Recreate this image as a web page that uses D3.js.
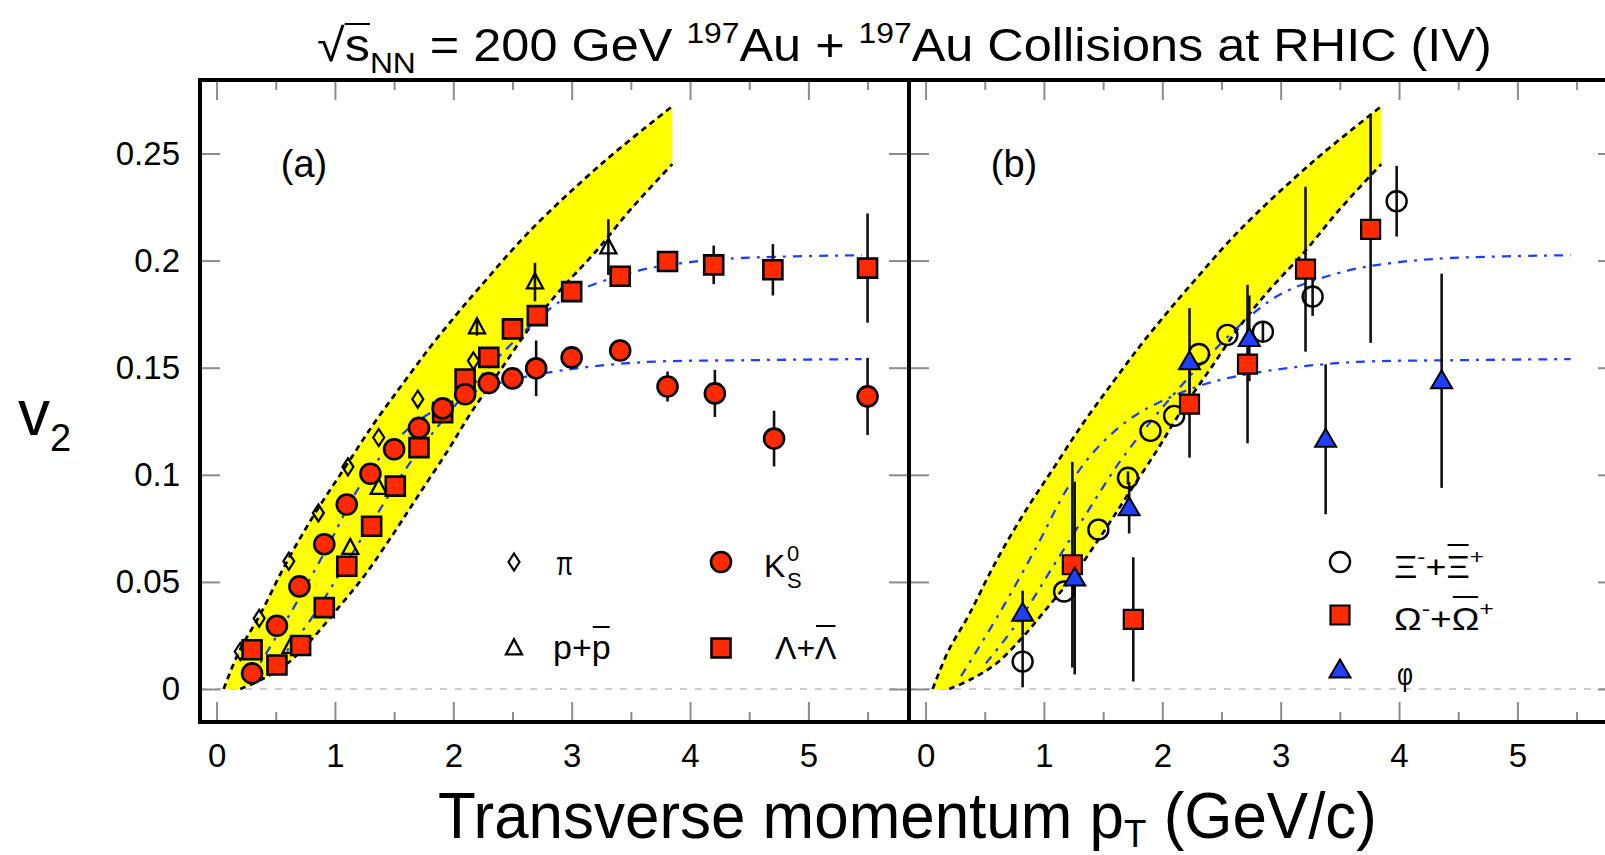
<!DOCTYPE html>
<html><head><meta charset="utf-8">
<script src="https://cdn.jsdelivr.net/npm/d3@7"></script>
<style>
html,body{margin:0;padding:0;background:#fff;}
svg{display:block;}
text{font-family:"Liberation Sans",Arial,Helvetica,sans-serif;fill:#000;}
</style></head><body>
<svg id="chart" width="1605" height="855"></svg>
<script>
// ---------------- data ----------------
const xTicks = [0, 1, 2, 3, 4, 5];
const xMinorTicks = [0.5, 1.5, 2.5, 3.5, 4.5, 5.5];
const yTicks = [0, 0.05, 0.1, 0.15, 0.2, 0.25];
const yTickLabels = ["0", "0.05", "0.1", "0.15", "0.2", "0.25"];

// panel (a)
const piPt  = [0.20, 0.36, 0.61, 0.86, 1.11, 1.37, 1.70, 2.17];
const piV2  = [0.0175, 0.033, 0.0596, 0.0822, 0.1037, 0.1174, 0.1353, 0.1532];

const ppPt  = [0.625, 1.13, 1.37, 2.20, 2.69, 3.31];
const ppV2  = [0.0198, 0.066, 0.094, 0.169, 0.190, 0.2063];
const ppErr = [0, 0, 0, 0.004, 0.009, 0.013];

const k0Pt  = [0.30, 0.51, 0.70, 0.91, 1.10, 1.30, 1.50, 1.71, 1.91, 2.10, 2.30, 2.50, 2.70, 3.00, 3.41, 3.81, 4.21, 4.71, 5.50];
const k0V2  = [0.0073, 0.0295, 0.0479, 0.0676, 0.0861, 0.1005, 0.1119, 0.1219, 0.131, 0.1376, 0.1428, 0.145, 0.1497, 0.1548, 0.158, 0.1412, 0.138, 0.1169, 0.1366];
const k0Err = [0, 0, 0, 0, 0, 0, 0, 0, 0, 0, 0, 0, 0.013, 0, 0, 0.007, 0.011, 0.013, 0.018];

const lamPt  = [0.30, 0.51, 0.71, 0.91, 1.10, 1.31, 1.51, 1.71, 1.91, 2.10, 2.30, 2.50, 2.71, 3.00, 3.41, 3.81, 4.20, 4.70, 5.50];
const lamV2  = [0.0183, 0.0112, 0.0203, 0.038, 0.0573, 0.076, 0.0947, 0.1127, 0.129, 0.1447, 0.1548, 0.1681, 0.1743, 0.1855, 0.1927, 0.1996, 0.198, 0.1957, 0.1965];
const lamErr = [0, 0, 0, 0, 0, 0, 0, 0, 0, 0, 0, 0, 0, 0, 0, 0.003, 0.009, 0.012, 0.0255];

// panel (b)
const xiPt  = [0.82, 1.17, 1.46, 1.71, 1.90, 2.10, 2.31, 2.55, 2.85, 3.27, 3.98];
const xiV2  = [0.0128, 0.0455, 0.0744, 0.0986, 0.1205, 0.1275, 0.1564, 0.1653, 0.1668, 0.1832, 0.2277];
const xiErr = [0.012, 0, 0, 0.003, 0, 0, 0, 0, 0.005, 0.009, 0.0165];

const omPt  = [1.24, 1.755, 2.23, 2.72, 3.21, 3.76];
const omV2  = [0.058, 0.0325, 0.133, 0.1517, 0.196, 0.2146];
const omErr = [0.048, 0.029, 0.025, 0.037, 0.0385, 0.053];

const phiPt  = [0.82, 1.26, 1.72, 2.23, 2.735, 3.38, 4.36];
const phiV2  = [0.0354, 0.0518, 0.0846, 0.1528, 0.1637, 0.1166, 0.1439];
const phiErr = [0.0105, 0.045, 0.012, 0.025, 0.02, 0.035, 0.05];

// hydro band (both panels)
const bandUpPt = [0.06, 0.19, 0.37, 0.58, 0.82, 1.08, 1.33, 1.58, 1.81, 2.03, 2.23, 2.65, 3.27, 3.85];
const bandUpV2 = [0.0, 0.0175, 0.035, 0.058, 0.081, 0.103, 0.124, 0.143, 0.160, 0.175, 0.188, 0.214, 0.246, 0.272];
const bandLoPt = [0.2, 0.4, 0.6, 0.8, 1.0, 1.25, 1.5, 1.7, 1.95, 2.15, 2.4, 2.65, 2.9, 3.2, 3.5, 3.85];
const bandLoV2 = [0.0, 0.005, 0.012, 0.023, 0.036, 0.053, 0.073, 0.09, 0.111, 0.129, 0.149, 0.169, 0.186, 0.204, 0.224, 0.245];

// fit curves (both panels)
const mesonFitPt = [0.30, 0.62, 0.94, 1.19, 1.41, 1.70, 1.98, 2.40, 2.90, 3.58, 4.5, 5.45];
const mesonFitV2 = [0.006, 0.035, 0.0666, 0.093, 0.110, 0.125, 0.134, 0.143, 0.1486, 0.1525, 0.1535, 0.154];
const baryonFitPt = [0.51, 0.79, 1.075, 1.36, 1.64, 1.92, 2.12, 2.4, 2.84, 3.08, 3.58, 3.96, 4.43, 5.45];
const baryonFitV2 = [0.012, 0.032, 0.057, 0.082, 0.106, 0.126, 0.139, 0.156, 0.1785, 0.1865, 0.1955, 0.199, 0.2012, 0.2025];

// ---------------- drawing ----------------
const RED = "#ff2a00", BLUE = "#1f3fff";
const FONT = '"Liberation Sans", Arial, Helvetica, sans-serif';
const svg = d3.select("#chart");
svg.append("rect").attr("width", 1605).attr("height", 855).attr("fill", "#fff");

const TOP = 80, BOTTOM = 722;
const y = d3.scaleLinear().domain([-0.0154, 0.2843]).range([BOTTOM, TOP]);
const xDomain = [-0.14, 5.85];

const zip = (a, b, c) => a.map((v, i) => ({x: v, y: b[i], e: c ? c[i] : 0}));

function diamondPath(w, h) { return `M0,${-h/2}L${w/2},0L0,${h/2}L${-w/2},0Z`; }
function triPath(w, h) { return `M0,${-h*0.58}L${w/2},${h*0.42}L${-w/2},${h*0.42}Z`; }
function squarePath(s) { return `M${-s/2},${-s/2}H${s/2}V${s/2}H${-s/2}Z`; }

function drawMarker(g, type, cx, cy) {
  if (type === "pi") {
    g.append("path").attr("d", diamondPath(11, 17)).attr("transform", `translate(${cx},${cy})`)
      .attr("fill", "none").attr("stroke", "#000").attr("stroke-width", 2.2);
  } else if (type === "pp") {
    g.append("path").attr("d", triPath(16, 15)).attr("transform", `translate(${cx},${cy})`)
      .attr("fill", "none").attr("stroke", "#000").attr("stroke-width", 2.3);
  } else if (type === "k0") {
    g.append("circle").attr("cx", cx).attr("cy", cy).attr("r", 10)
      .attr("fill", RED).attr("stroke", "#000").attr("stroke-width", 2.6);
  } else if (type === "lam") {
    g.append("path").attr("d", squarePath(19)).attr("transform", `translate(${cx},${cy})`)
      .attr("fill", RED).attr("stroke", "#000").attr("stroke-width", 2.6);
  } else if (type === "xi") {
    g.append("circle").attr("cx", cx).attr("cy", cy).attr("r", 10)
      .attr("fill", "none").attr("stroke", "#000").attr("stroke-width", 2.4);
  } else if (type === "om") {
    g.append("path").attr("d", squarePath(19)).attr("transform", `translate(${cx},${cy})`)
      .attr("fill", RED).attr("stroke", "#000").attr("stroke-width", 2.2);
  } else if (type === "phi") {
    g.append("path").attr("d", triPath(21, 18)).attr("transform", `translate(${cx},${cy})`)
      .attr("fill", BLUE).attr("stroke", "#000").attr("stroke-width", 2);
  }
}

const panels = [
  {id: "a", range: [200, 909], labels: true,
   series: [
     {type: "pi", d: zip(piPt, piV2)},
     {type: "pp", d: zip(ppPt, ppV2, ppErr)},
     {type: "lam", d: zip(lamPt, lamV2, lamErr)},
     {type: "k0", d: zip(k0Pt, k0V2, k0Err)}
   ]},
  {id: "b", range: [909, 1618], labels: false,
   series: [
     {type: "xi", d: zip(xiPt, xiV2, xiErr)},
     {type: "om", d: zip(omPt, omV2, omErr)},
     {type: "phi", d: zip(phiPt, phiV2, phiErr)}
   ]}
];

const defs = svg.append("defs");

panels.forEach(p => {
  const x = d3.scaleLinear().domain(xDomain).range(p.range);
  const g = svg.append("g");
  defs.append("clipPath").attr("id", "clip-" + p.id).append("rect")
    .attr("x", p.range[0]).attr("y", TOP).attr("width", p.range[1] - p.range[0]).attr("height", BOTTOM - TOP);
  const inner = g.append("g").attr("clip-path", `url(#clip-${p.id})`);

  // zero line
  inner.append("line").attr("x1", p.range[0]).attr("x2", p.range[1])
    .attr("y1", y(0)).attr("y2", y(0))
    .attr("stroke", "#bdbdbd").attr("stroke-width", 1.6).attr("stroke-dasharray", "7,8");

  // hydro band
  const line = d3.line().x(d => x(d.x)).y(d => y(d.y)).curve(d3.curveCatmullRom.alpha(0.5));
  const up = zip(bandUpPt, bandUpV2);
  const lo = zip(bandLoPt, bandLoV2);
  const upPath = line(up);
  const loRevPath = line(lo.slice().reverse()).replace(/^M/, "L");
  inner.append("path").attr("d", upPath + loRevPath + "Z").attr("fill", "#ffff00").attr("stroke", "none");
  [up, lo].forEach(c => inner.append("path").attr("d", line(c)).attr("fill", "none")
    .attr("stroke", "#000").attr("stroke-width", 2.7).attr("stroke-dasharray", "6,4.5"));

  // fit curves
  [zip(mesonFitPt, mesonFitV2), zip(baryonFitPt, baryonFitV2)].forEach(c =>
    inner.append("path").attr("d", line(c)).attr("fill", "none")
      .attr("stroke", BLUE).attr("stroke-width", 2.3).attr("stroke-dasharray", "9,7,3,7"));

  // error bars
  p.series.forEach(s => {
    s.d.filter(d => d.e > 0).forEach(d => {
      inner.append("line").attr("x1", x(d.x)).attr("x2", x(d.x))
        .attr("y1", y(d.y - d.e)).attr("y2", y(d.y + d.e))
        .attr("stroke", "#111").attr("stroke-width", 2.6);
    });
  });
  // markers
  p.series.forEach(s => s.d.forEach(d => drawMarker(inner, s.type, x(d.x), y(d.y))));

  // axes
  const tickStyle = sel => {
    sel.select(".domain").remove();
    sel.selectAll("line").attr("stroke", "#8c8c8c").attr("stroke-width", 2);
    sel.attr("font-family", FONT).attr("font-size", 33);
  };
  g.append("g").attr("transform", `translate(0,${BOTTOM})`)
    .call(d3.axisBottom(x).tickValues(xTicks).tickFormat(d3.format("d")).tickSizeInner(-20).tickSizeOuter(0).tickPadding(22))
    .call(tickStyle);
  g.append("g").attr("transform", `translate(0,${BOTTOM})`)
    .call(d3.axisBottom(x).tickValues(xMinorTicks).tickFormat("").tickSizeInner(-10).tickSizeOuter(0))
    .call(tickStyle);
  g.append("g").attr("transform", `translate(0,${TOP})`)
    .call(d3.axisTop(x).tickValues(xTicks).tickFormat("").tickSizeInner(-20).tickSizeOuter(0))
    .call(tickStyle);
  g.append("g").attr("transform", `translate(0,${TOP})`)
    .call(d3.axisTop(x).tickValues(xMinorTicks).tickFormat("").tickSizeInner(-10).tickSizeOuter(0))
    .call(tickStyle);
  g.append("g").attr("transform", `translate(${p.range[0]},0)`)
    .call(d3.axisLeft(y).tickValues(yTicks).tickFormat((d, i) => p.labels ? yTickLabels[i] : "")
      .tickSizeInner(-20).tickSizeOuter(0).tickPadding(20))
    .call(tickStyle);
  g.append("g").attr("transform", `translate(${p.range[1]},0)`)
    .call(d3.axisRight(y).tickValues(yTicks).tickFormat("").tickSizeInner(-20).tickSizeOuter(0))
    .call(tickStyle);

  // frame
  g.append("rect").attr("x", p.range[0]).attr("y", TOP)
    .attr("width", p.range[1] - p.range[0]).attr("height", BOTTOM - TOP)
    .attr("fill", "none").attr("stroke", "#000").attr("stroke-width", 4);
});

// ---------------- texts ----------------
function overline(g, textSel, idx, yy, pad) {
  const n = textSel.node();
  const s = n.getStartPositionOfChar(idx), e = n.getEndPositionOfChar(idx);
  const pd = pad === undefined ? 1 : pad;
  g.append("line").attr("x1", s.x + pd).attr("x2", e.x - pd)
    .attr("y1", yy).attr("y2", yy).attr("stroke", "#000").attr("stroke-width", 2);
}
function fitGroup(g, left, right) {
  const bb = g.node().getBBox();
  const sx = (right - left) / bb.width;
  g.attr("transform", `translate(${left - bb.x * sx},0) scale(${sx},1)`);
}

// title
{
  const g = svg.append("g");
  const base = 61;
  const t = g.append("text").attr("x", 0).attr("y", base).attr("font-size", 46);
  t.append("tspan").text("\u221As");
  t.append("tspan").attr("font-size", 29).attr("dy", 12).text("NN");
  t.append("tspan").attr("dy", -12).text(" = 200 GeV ");
  t.append("tspan").attr("font-size", 29).attr("dy", -18).text("197");
  t.append("tspan").attr("dy", 18).text("Au + ");
  t.append("tspan").attr("font-size", 29).attr("dy", -18).text("197");
  t.append("tspan").attr("dy", 18).text("Au Collisions at RHIC (IV)");
  overline(g, t, 1, base - 37, 0);
  fitGroup(g, 317, 1492);
}

// x axis title
{
  const g = svg.append("g");
  const t = g.append("text").attr("x", 0).attr("y", 838).attr("font-size", 64);
  t.append("tspan").text("Transverse momentum p");
  t.append("tspan").attr("font-size", 38).attr("dy", 9).text("T");
  t.append("tspan").attr("dy", -9).text(" (GeV/c)");
  fitGroup(g, 438, 1377);
}

// y axis title
{
  const t = svg.append("text").attr("x", 18).attr("y", 435).attr("font-size", 64);
  t.append("tspan").text("v");
  t.append("tspan").attr("font-size", 38).attr("dy", 16).text("2");
}

// panel labels
svg.append("text").attr("x", 304).attr("y", 177).attr("font-size", 38).attr("text-anchor", "middle").text("(a)");
svg.append("text").attr("x", 1014).attr("y", 177).attr("font-size", 38).attr("text-anchor", "middle").text("(b)");

// legend panel (a)
{
  const g = svg.append("g");
  drawMarker(g, "pi", 514, 562);
  drawMarker(g, "k0", 721, 562);
  drawMarker(g, "pp", 514, 648);
  drawMarker(g, "lam", 721, 648);
  const gp = g.append("g");
  gp.append("text").attr("x", 0).attr("y", 575).attr("font-size", 33).text("\u03C0");
  fitGroup(gp, 556, 573);
  g.append("text").attr("x", 764).attr("y", 577).attr("font-size", 32).text("K");
  g.append("text").attr("x", 787).attr("y", 561).attr("font-size", 22).text("0");
  g.append("text").attr("x", 787).attr("y", 588).attr("font-size", 22).text("S");
  const t1 = g.append("text").attr("x", 553).attr("y", 659).attr("font-size", 34).text("p+p");
  overline(g, t1, 2, 627);
  const t2 = g.append("text").attr("x", 775).attr("y", 659).attr("font-size", 32).text("\u039B+\u039B");
  overline(g, t2, 2, 626);
}

// legend panel (b)
{
  const g = svg.append("g");
  drawMarker(g, "xi", 1340, 562);
  drawMarker(g, "om", 1340, 615);
  drawMarker(g, "phi", 1340, 670);
  const mk = (yy, ch, left, right, oy) => {
    const gg = g.append("g");
    const t = gg.append("text").attr("x", 0).attr("y", yy).attr("font-size", 31);
    t.append("tspan").text(ch);
    t.append("tspan").attr("font-size", 21).attr("dy", -14).text("-");
    t.append("tspan").attr("dy", 14).text("+" + ch);
    t.append("tspan").attr("font-size", 21).attr("dy", -14).text("+");
    overline(gg, t, 3, oy);
    fitGroup(gg, left, right);
  };
  mk(578, "\u039E", 1394, 1484, 545);
  mk(630, "\u03A9", 1394, 1494, 597);
  const gf = g.append("g");
  gf.append("text").attr("x", 0).attr("y", 685).attr("font-size", 31).text("\u03C6");
  fitGroup(gf, 1397, 1413);
}
</script>
</body></html>
